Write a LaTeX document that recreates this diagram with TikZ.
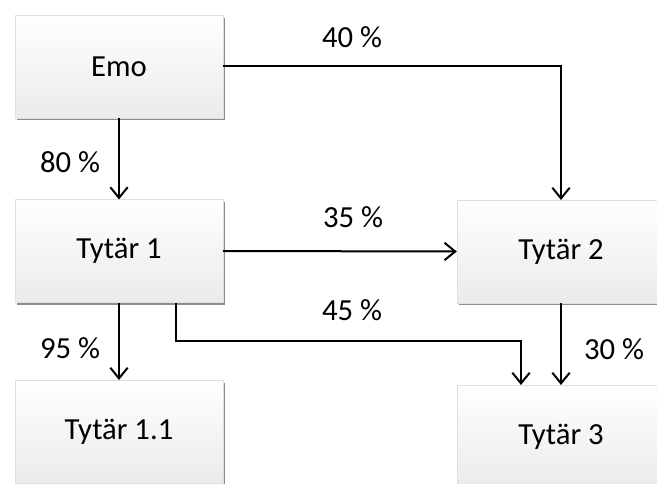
\documentclass[tikz,border=0pt]{standalone}
\usepackage{fontspec}
\setmainfont{Carlito}
\usepackage{tikz}
\usetikzlibrary{arrows.meta,shadows}

\begin{document}
\begin{tikzpicture}[
  x=0.75pt,y=-0.75pt,
  line cap=butt,
  line join=miter,
  box/.style={fill=white,top color=white,middle color=white,bottom color=gray!16,
    draw=gray!25,line width=0.3pt,minimum width=156pt,minimum height=77pt,
    inner sep=0pt,font=\fontsize{23}{27}\selectfont,
    drop shadow={shadow xshift=1.2pt,shadow yshift=-1.8pt,opacity=0.45,fill=black}},
  link/.style={draw=black,line width=1.5pt,-{Straight Barb[length=8pt,width=13pt,line width=1.5pt]}},
  pct/.style={font=\fontsize{23}{27}\selectfont,inner sep=0pt}
]
  \useasboundingbox (0,0) rectangle (657,484);

  % Boxes
  \node[box] (emo)     at (119, 66.5) {Emo};
  \node[box] (tytar1)  at (119,251)   {Tytär 1};
  \node[box] (tytar2)  at (561,251.5) {Tytär 2};
  \node[box] (tytar11) at (119,431.5) {Tytär 1.1};
  \node[box] (tytar3)  at (561,436.5) {Tytär 3};

  % Corner points
  \coordinate (split) at (176,341);
  \coordinate (drop)  at (521,341);

  % Connectors
  \draw[link] (emo.east) -| (tytar2.north);
  \draw[link] (emo.south) -- (tytar1.north);
  \draw[link] (tytar1.east) -- (tytar2.west);
  \draw[link] (tytar1.south) -- (tytar11.north);
  \draw[link] (tytar1.south -| split) -- (split) -- (drop) -- (tytar3.north -| drop);
  \draw[link] (tytar2.south) -- (tytar3.north);

  % Percentages
  \node[pct] (lbl40) at (352, 37)  {40 \%};
  \node[pct] (lbl80) at ( 70,162)  {80 \%};
  \node[pct] (lbl35) at (353,217)  {35 \%};
  \node[pct] (lbl45) at (352,310)  {45 \%};
  \node[pct] (lbl95) at ( 70,348)  {95 \%};
  \node[pct] (lbl30) at (614,349)  {30 \%};
\end{tikzpicture}
\end{document}
